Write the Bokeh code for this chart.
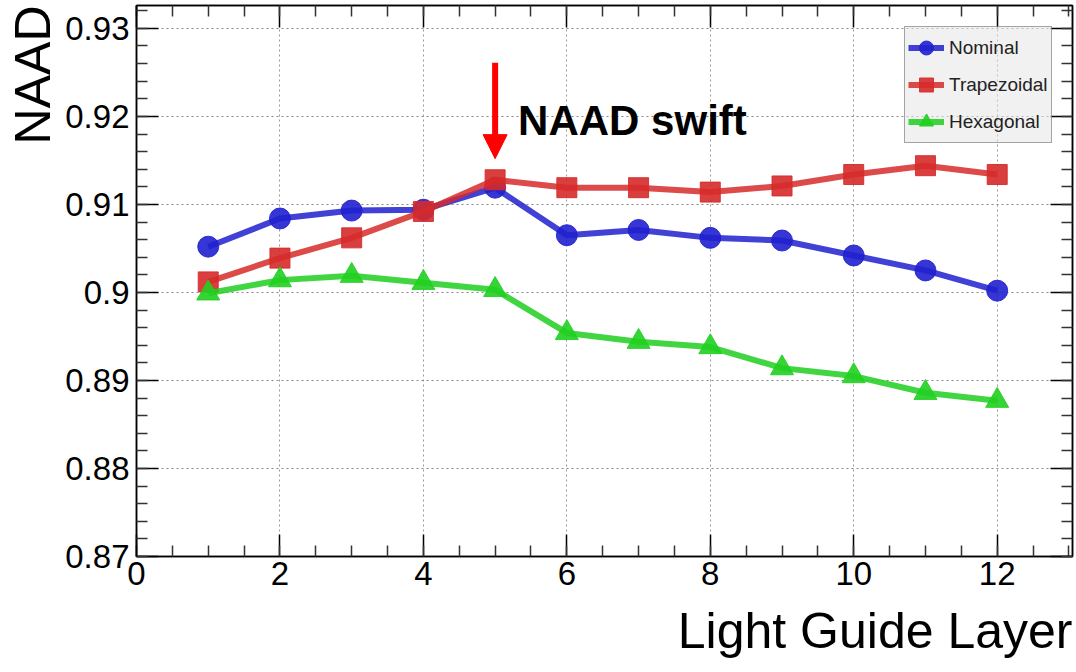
from bokeh.plotting import figure
from bokeh.models import (Range1d, LinearAxis, SingleIntervalTicker, CustomJSTickFormatter,
                          Grid, Legend, LegendItem, Arrow, NormalHead, Label, Title)
from bokeh.embed import file_html
from bokeh.resources import INLINE

# Light guide layer index
layers = [1, 2, 3, 4, 5, 6, 7, 8, 9, 10, 11, 12]

# NAAD per layer for each light guide geometry
nominal = [0.9052, 0.9084, 0.9093, 0.9094, 0.9119, 0.9065,
           0.9071, 0.9062, 0.9059, 0.9042, 0.9025, 0.9002]
trapezoidal = [0.9012, 0.9039, 0.9062, 0.9092, 0.9128, 0.9119,
               0.9119, 0.9114, 0.9121, 0.9134, 0.9144, 0.9134]
hexagonal = [0.8999, 0.9014, 0.9019, 0.9011, 0.9003, 0.8954,
             0.8944, 0.8938, 0.8914, 0.8905, 0.8886, 0.8877]

series_names = ["Nominal", "Trapezoidal", "Hexagonal"]

# annotated layer (where the swift happens)
swift_layer = 5
swift_text = "NAAD swift"

FONT = "Liberation Sans"

p = figure(width=1076, height=672, output_backend="svg", toolbar_location=None,
           x_range=Range1d(0, 13.05), y_range=Range1d(0.87, 0.9326),
           x_axis_type=None, y_axis_type=None,
           min_border_left=135, min_border_right=4,
           min_border_top=5, min_border_bottom=116)
p.background_fill_color = "white"
p.border_fill_color = "white"
p.outline_line_color = "black"
p.outline_line_width = 1.5

xticker = SingleIntervalTicker(interval=2, num_minor_ticks=4)
yticker = SingleIntervalTicker(interval=0.01, num_minor_ticks=5)
xfmt = CustomJSTickFormatter(code="return tick.toFixed(0);")
yfmt = CustomJSTickFormatter(code="return tick.toFixed(2).replace(/0$/, '');")
blank = CustomJSTickFormatter(code="return '';")


def styled_axis(ticker, formatter, label_size, standoff):
    return LinearAxis(ticker=ticker, formatter=formatter,
                      axis_line_color="black", axis_line_width=1.5,
                      major_tick_in=22, major_tick_out=0,
                      minor_tick_in=11, minor_tick_out=0,
                      major_tick_line_color="black", major_tick_line_width=1.5,
                      minor_tick_line_color="#333333", minor_tick_line_width=1.5,
                      major_label_text_font=FONT,
                      major_label_text_font_size=label_size,
                      major_label_text_color="black",
                      major_label_standoff=standoff)


p.add_layout(styled_axis(xticker, xfmt, "33px", 5), "below")
p.add_layout(styled_axis(yticker, yfmt, "33px", 7), "left")
p.add_layout(styled_axis(xticker, blank, "0px", 0), "above")
p.add_layout(styled_axis(yticker, blank, "0px", 0), "right")

# axis titles, aligned to the far ends of their axes
p.add_layout(Title(text="Light Guide Layer", align="right", text_font=FONT,
                   text_font_size="50px", text_font_style="normal",
                   text_line_height=1.0,
                   text_color="black", standoff=27), "below")
p.add_layout(Title(text="NAAD", align="right", text_font=FONT,
                   text_font_size="50px", text_font_style="normal",
                   text_color="black", standoff=4), "left")

p.add_layout(Grid(dimension=0, ticker=xticker, grid_line_color="#999999",
                  grid_line_dash="2 3", grid_line_width=1))
p.add_layout(Grid(dimension=1, ticker=yticker, grid_line_color="#888888",
                  grid_line_dash="2 3", grid_line_width=1))

styles = [
    (nominal, "#2020cf", "circle", 21),
    (trapezoidal, "#d62a2a", "square", 20),
    (hexagonal, "#20cf20", "triangle", 23),
]

items = []
for name, (vals, color, marker, size) in zip(series_names, styles):
    lr = p.line(layers, vals, line_color=color, line_width=6, line_alpha=0.85)
    sr = p.scatter(layers, vals, marker=marker, size=size,
                   fill_color=color, fill_alpha=0.9, line_color=color, line_alpha=0.9)
    items.append(LegendItem(label=name, renderers=[lr, sr]))

legend = Legend(items=items, location=(768, 413),
                glyph_width=36, glyph_height=35, spacing=2, padding=3, margin=0,
                label_standoff=5, label_height=35,
                label_text_font=FONT, label_text_font_size="19px",
                label_text_color="#222222",
                border_line_color="#555555", border_line_width=1,
                background_fill_color="#e6e6e6", background_fill_alpha=0.55)
p.add_layout(legend)

arrow = Arrow(end=NormalHead(size=24, fill_color="red", line_color="red"),
              x_start=swift_layer, y_start=0.9261,
              x_end=swift_layer, y_end=0.9152,
              line_color="red", line_width=6)
p.add_layout(arrow)

p.add_layout(Label(x=swift_layer, y=0.91955, x_offset=23, text=swift_text,
                   text_font=FONT, text_font_style="bold", text_font_size="42px",
                   text_color="black", text_baseline="alphabetic"))

open("out.html", "w").write(file_html(p, INLINE))
